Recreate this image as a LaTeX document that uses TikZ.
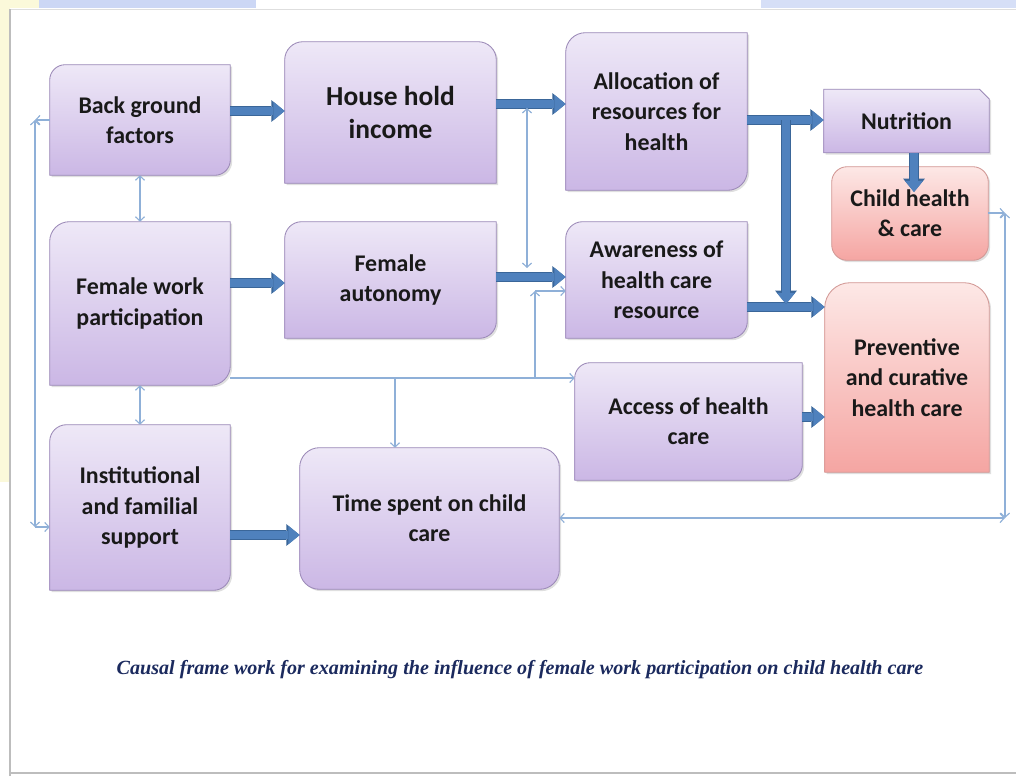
\documentclass[tikz,border=0pt]{standalone}
\usepackage{fontspec}
\setmainfont{Carlito}
\newfontfamily\capfont{Liberation Serif}
\usetikzlibrary{arrows.meta,backgrounds,shadows}

\definecolor{lilactop}{HTML}{EEE8F7}
\definecolor{lilacbot}{HTML}{CBB7E5}
\definecolor{lilacedge}{HTML}{9B89B7}
\definecolor{rosetop}{HTML}{FDE8E6}
\definecolor{rosebot}{HTML}{F5A5A2}
\definecolor{roseedge}{HTML}{D29895}
\definecolor{fatblue}{HTML}{4F81BD}
\definecolor{fatedge}{HTML}{3A6699}
\definecolor{linkblue}{HTML}{8FB0D8}
\definecolor{capnavy}{HTML}{1B2A5E}
\definecolor{paleyellow}{HTML}{FBF9DA}
\definecolor{paleblue}{HTML}{CCD7F5}
\definecolor{framegrey}{HTML}{BDBDBD}

\tikzset{
	box/.style={inner sep=0pt, align=center, text=black!90, font=\bfseries\fontsize{17}{21.5}\selectfont},
	bigbox/.style={box, font=\bfseries\fontsize{19.5}{23.5}\selectfont},
	lilac/.style={top color=lilactop, bottom color=lilacbot, draw=lilacedge, line width=0.6pt, drop shadow={opacity=0.25, shadow xshift=1.3pt, shadow yshift=-1.3pt}},
	rose/.style={top color=rosetop, bottom color=rosebot, draw=roseedge, line width=0.6pt, drop shadow={opacity=0.25, shadow xshift=1.3pt, shadow yshift=-1.3pt}},
	fat/.style={draw=fatblue, line width=5.6pt, -{Triangle[length=8pt, width=13pt, line width=0pt]}, preaction={draw=fatedge, line width=7pt, -{Triangle[length=9.5pt, width=15.5pt, line width=0pt]}}},
	link/.style={draw=linkblue, line width=0.8pt, -{Straight Barb[length=3pt, width=6.5pt]}},
	twolink/.style={link, {Straight Barb[length=3pt, width=6.5pt]}-{Straight Barb[length=3pt, width=6.5pt]}}
}

\begin{document}
\begin{tikzpicture}[x=0.025cm, y=-0.025cm]
	\useasboundingbox (0, 0) rectangle (1016, 776);

	\node[box, minimum width=4.5cm, minimum height=2.75cm] (BG) at (140, 120) {Back ground\\factors};
	\node[bigbox, minimum width=5.275cm, minimum height=3.525cm] (HH) at (390.5, 112.5) {House hold\\income};
	\node[box, minimum width=4.5cm, minimum height=4.075cm] (FW) at (140, 303.5) {Female work\\participation};
	\node[box, minimum width=5.275cm, minimum height=2.9cm] (FA) at (390.5, 280) {Female\\autonomy};
	\node[box, minimum width=4.525cm, minimum height=3.925cm] (AR) at (656.5, 111.5) {Allocation of\\resources for\\health};
	\node[box, minimum width=4.525cm, minimum height=2.9cm] (AW) at (656.5, 280) {Awareness of\\health care\\resource};
	\node[box, minimum width=4.125cm, minimum height=1.575cm] (N) at (906.5, 121) {Nutrition};
	\node[box, minimum width=3.9cm, minimum height=2.325cm] (CH) at (910, 213.5) {Child health\\\& care};
	\node[box, minimum width=4.1cm, minimum height=4.725cm] (PC) at (907, 377.5) {Preventive\\and curative\\health care};
	\node[box, minimum width=5.675cm, minimum height=2.925cm] (AH) at (688.5, 421.5) {Access of health\\care};
	\node[box, minimum width=4.5cm, minimum height=4.125cm] (IF) at (140, 507.5) {Institutional\\and familial\\support};
	\node[box, minimum width=6.475cm, minimum height=3.525cm] (TS) at (429.5, 518.5) {Time spent on child\\care};
	\node[text=capnavy, font=\capfont\bfseries\itshape\fontsize{14.3}{16}\selectfont] (CAP) at (520, 670) {Causal frame work for examining the influence of female work participation on child health care};

	\begin{scope}[on background layer]
		\fill[white] (0, 0) rectangle (1016, 776);
		\fill[paleyellow] (0, 0) rectangle (10, 482);
		\fill[paleyellow] (0, 0) rectangle (39, 8);
		\fill[paleblue] (39, 0) rectangle (256, 8);
		\fill[paleblue!80] (761, 0) rectangle (1016, 8);
		\draw[framegrey!50, line width=0.6pt] (10, 9) -- (1016, 9);
		\draw[framegrey, line width=1.4pt] (10, 776) -- (10, 9);
		\draw[framegrey, line width=1.4pt] (10, 773) -- (1016, 773);
		\foreach \n/\rad in {BG/11pt, FW/14pt, FA/12pt, AR/14pt, AW/12pt, AH/11pt, IF/12pt}
			\path[lilac] (\n.south west) -- ([yshift=-\rad]\n.north west) arc (180:90:\rad) -- (\n.north east) -- ([yshift=\rad]\n.south east) arc (0:-90:\rad) -- cycle;
		\path[lilac] (HH.south west) -- ([yshift=-13pt]HH.north west) arc (180:90:13pt) -- ([xshift=-13pt]HH.north east) arc (90:0:13pt) -- (HH.south east) -- cycle;
		\path[lilac] (N.south west) -- (N.north west) -- ([xshift=-7pt]N.north east) -- ([yshift=-7pt]N.north east) -- (N.south east) -- cycle;
		\path[lilac, rounded corners=14pt] (TS.south west) rectangle (TS.north east);
		\path[rose, rounded corners=11pt] (CH.south west) rectangle (CH.north east);
		\path[rose] (PC.south west) -- ([yshift=-18pt]PC.north west) arc (180:90:18pt) -- ([xshift=-18pt]PC.north east) arc (90:0:18pt) -- (PC.south east) -- cycle;
	\end{scope}

	\coordinate (J1) at (786, 120);
	\coordinate (J2) at (786, 304);
	\coordinate (L1) at (35, 120);
	\coordinate (L2) at (35, 527);
	\coordinate (R1) at (1005, 213);
	\coordinate (R2) at (1005, 518);
	\coordinate (M1) at (527, 108);
	\coordinate (M2) at (527, 268);
	\coordinate (B1) at (395, 378);
	\coordinate (B2) at (535, 378);
	\coordinate (B3) at (535, 291);

	\draw[fat] (BG.east |- 0, 111) -- (HH.west |- 0, 111);
	\draw[fat] (HH.east |- 0, 104) -- (AR.west |- 0, 104);
	\draw[fat] (FW.east |- 0, 283) -- (FA.west |- 0, 283);
	\draw[fat] (FA.east |- 0, 277) -- (AW.west |- 0, 277);
	\draw[fat] (AR.east |- 0, 120) -- (N.west |- 0, 120);
	\draw[fat] (AW.east |- 0, 307) -- (PC.west |- 0, 307);
	\draw[fat] (J1) -- (J2);
	\draw[fat] (N.south -| 914, 0) -- (914, 192);
	\draw[fat] (AH.east |- 0, 417) -- (PC.west |- 0, 417);
	\draw[fat] (IF.east |- 0, 535) -- (TS.west |- 0, 535);

	\draw[twolink] (BG) -- (FW);
	\draw[twolink] (FW) -- (IF);
	\draw[link] (BG.west |- L1) -- (L1);
	\draw[twolink] (L1) -- (L2);
	\draw[link] (L2) -- (IF.west |- L2);
	\draw[link] (CH.east |- R1) -- (R1);
	\draw[twolink] (R1) -- (R2);
	\draw[twolink] (TS.east |- R2) -- (R2);
	\draw[twolink] (M1) -- (M2);
	\draw[link] (FW.east |- B1) -- (AH.west |- B1);
	\draw[link] (B1) -- (B1 |- TS.north);
	\draw[link] (B2) -- (B3);
	\draw[link] (B3) -- (AW.west |- B3);
\end{tikzpicture}
\end{document}
